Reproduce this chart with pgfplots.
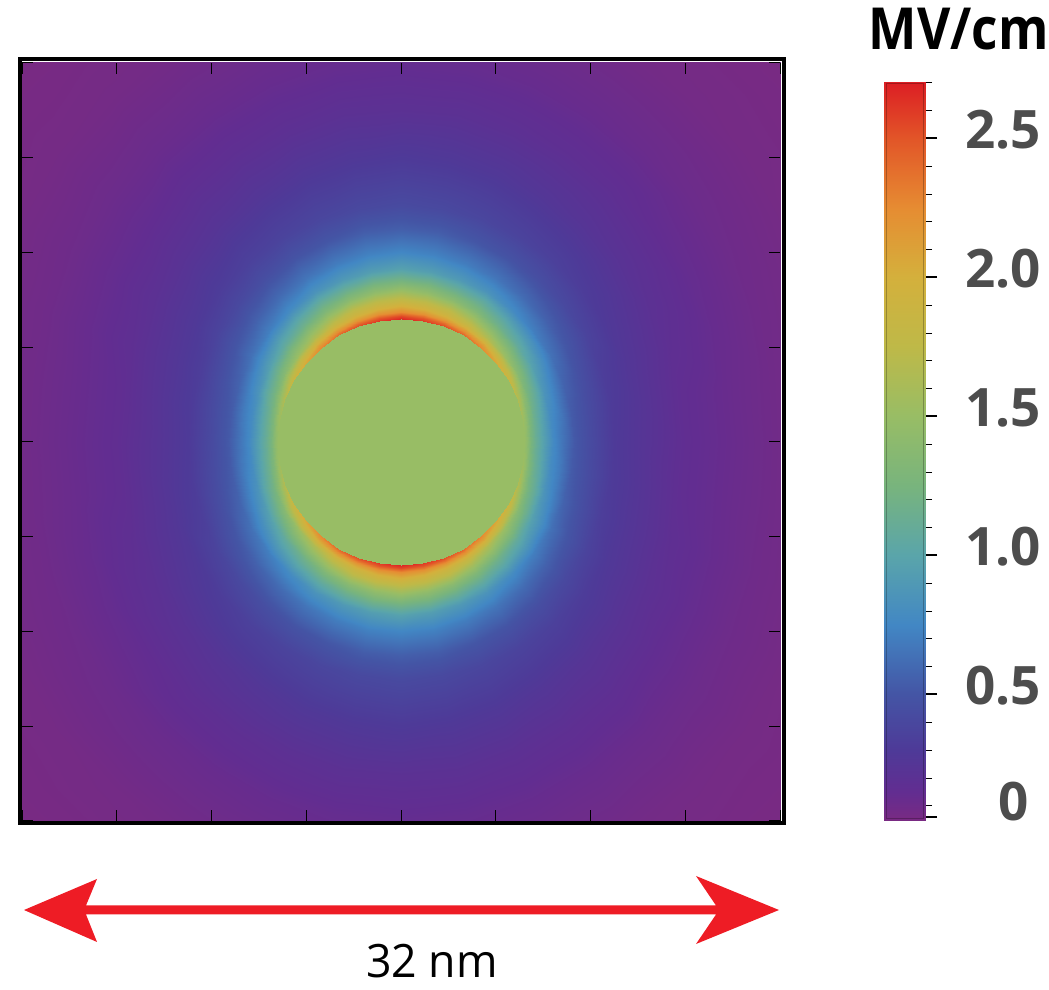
\documentclass[border=0pt]{standalone}
\usepackage{fontspec}
\setmainfont{Open Sans}
\usepackage{pgfplots}
\pgfplotsset{compat=1.18}
\definecolor{inner}{RGB}{152,189,101}
\definecolor{arrowred}{RGB}{238,28,37}
\definecolor{lab}{RGB}{77,77,77}
\pgfplotsset{colormap={field}{
 rgb255(4.5pt)=(122,42,130);
 rgb255(15pt)=(98,45,145);
 rgb255(30pt)=(78,58,152);
 rgb255(50pt)=(68,85,165);
 rgb255(75pt)=(66,135,196);
 rgb255(100pt)=(90,165,170);
 rgb255(125pt)=(120,180,125);
 rgb255(150pt)=(152,189,101);
 rgb255(175pt)=(190,185,72);
 rgb255(200pt)=(212,176,60);
 rgb255(225pt)=(230,140,50);
 rgb255(250pt)=(226,85,40);
 rgb255(270.3pt)=(220,30,36)}}
\begin{document}
\begin{tikzpicture}
\useasboundingbox (0pt,0pt) rectangle (524.5pt,495pt);
\begin{axis}[
  at={(11pt,84.5pt)},anchor=south west,scale only axis,
  xmin=-16,xmax=16,ymin=-16,ymax=16,
  width=379pt,height=379pt,
  axis line style={draw=none},
  axis on top,
  xtick={-16,-12,-8,-4,0,4,8,12,16},ytick={-16,-12,-8,-4,0,4,8,12,16},
  xticklabels={},yticklabels={},
  tick align=inside,major tick length=5.5pt,
  tick style={black,line width=0.5pt},
  colormap name=field,point meta min=0.045,point meta max=2.703,
  clip=true,
]
\addplot[surf,shader=interp,mesh/rows=37,mesh/cols=16,data cs=polar,point meta=explicit]
 table[x index=0,y index=1,meta index=2]{
0 5.2 1.50
0 5.3 1.42
0 5.5 1.25
0 5.7 1.12
0 6.0 0.97
0 6.4 0.77
0 6.8 0.66
0 7.3 0.52
0 8 0.42
0 9 0.30
0 10 0.25
0 12 0.16
0 14 0.12
0 16 0.085
0 19 0.055
0 23 0.05
10 5.2 1.55
10 5.3 1.47
10 5.5 1.29
10 5.7 1.15
10 6.0 0.99
10 6.4 0.79
10 6.8 0.68
10 7.3 0.53
10 8 0.43
10 9 0.31
10 10 0.26
10 12 0.16
10 14 0.12
10 16 0.087
10 19 0.056
10 23 0.05
20 5.2 1.70
20 5.3 1.61
20 5.5 1.42
20 5.7 1.23
20 6.0 1.07
20 6.4 0.86
20 6.8 0.73
20 7.3 0.57
20 8 0.46
20 9 0.33
20 10 0.27
20 12 0.18
20 14 0.13
20 16 0.092
20 19 0.059
20 23 0.05
30 5.2 1.90
30 5.3 1.80
30 5.5 1.59
30 5.7 1.36
30 6.0 1.19
30 6.4 0.96
30 6.8 0.81
30 7.3 0.64
30 8 0.51
30 9 0.37
30 10 0.29
30 12 0.20
30 14 0.14
30 16 0.099
30 19 0.063
30 23 0.05
40 5.2 2.10
40 5.3 2.00
40 5.5 1.76
40 5.7 1.51
40 6.0 1.32
40 6.4 1.08
40 6.8 0.91
40 7.3 0.71
40 8 0.56
40 9 0.41
40 10 0.32
40 12 0.22
40 14 0.15
40 16 0.108
40 19 0.068
40 23 0.05
50 5.2 2.30
50 5.3 2.19
50 5.5 1.93
50 5.7 1.66
50 6.0 1.45
50 6.4 1.19
50 6.8 1.00
50 7.3 0.78
50 8 0.61
50 9 0.45
50 10 0.35
50 12 0.24
50 14 0.17
50 16 0.117
50 19 0.072
50 23 0.05
60 5.2 2.44
60 5.3 2.32
60 5.5 2.05
60 5.7 1.80
60 6.0 1.58
60 6.4 1.30
60 6.8 1.09
60 7.3 0.85
60 8 0.66
60 9 0.48
60 10 0.37
60 12 0.26
60 14 0.18
60 16 0.125
60 19 0.077
60 23 0.05
70 5.2 2.55
70 5.3 2.43
70 5.5 2.14
70 5.7 1.91
70 6.0 1.68
70 6.4 1.39
70 6.8 1.16
70 7.3 0.90
70 8 0.70
70 9 0.51
70 10 0.39
70 12 0.28
70 14 0.19
70 16 0.132
70 19 0.081
70 23 0.05
80 5.2 2.62
80 5.3 2.49
80 5.5 2.20
80 5.7 1.99
80 6.0 1.75
80 6.4 1.46
80 6.8 1.21
80 7.3 0.94
80 8 0.73
80 9 0.54
80 10 0.41
80 12 0.29
80 14 0.20
80 16 0.137
80 19 0.083
80 23 0.05
90 5.2 2.68
90 5.3 2.55
90 5.5 2.25
90 5.7 2.05
90 6.0 1.80
90 6.4 1.50
90 6.8 1.25
90 7.3 0.97
90 8 0.75
90 9 0.55
90 10 0.42
90 12 0.30
90 14 0.20
90 16 0.14
90 19 0.085
90 23 0.05
100 5.2 2.62
100 5.3 2.49
100 5.5 2.20
100 5.7 1.99
100 6.0 1.75
100 6.4 1.46
100 6.8 1.21
100 7.3 0.94
100 8 0.73
100 9 0.54
100 10 0.41
100 12 0.29
100 14 0.20
100 16 0.137
100 19 0.083
100 23 0.05
110 5.2 2.55
110 5.3 2.43
110 5.5 2.14
110 5.7 1.91
110 6.0 1.68
110 6.4 1.39
110 6.8 1.16
110 7.3 0.90
110 8 0.70
110 9 0.51
110 10 0.39
110 12 0.28
110 14 0.19
110 16 0.132
110 19 0.081
110 23 0.05
120 5.2 2.44
120 5.3 2.32
120 5.5 2.05
120 5.7 1.80
120 6.0 1.58
120 6.4 1.30
120 6.8 1.09
120 7.3 0.85
120 8 0.66
120 9 0.48
120 10 0.37
120 12 0.26
120 14 0.18
120 16 0.125
120 19 0.077
120 23 0.05
130 5.2 2.30
130 5.3 2.19
130 5.5 1.93
130 5.7 1.66
130 6.0 1.45
130 6.4 1.19
130 6.8 1.00
130 7.3 0.78
130 8 0.61
130 9 0.45
130 10 0.35
130 12 0.24
130 14 0.17
130 16 0.117
130 19 0.072
130 23 0.05
140 5.2 2.10
140 5.3 2.00
140 5.5 1.76
140 5.7 1.51
140 6.0 1.32
140 6.4 1.08
140 6.8 0.91
140 7.3 0.71
140 8 0.56
140 9 0.41
140 10 0.32
140 12 0.22
140 14 0.15
140 16 0.108
140 19 0.068
140 23 0.05
150 5.2 1.90
150 5.3 1.80
150 5.5 1.59
150 5.7 1.36
150 6.0 1.19
150 6.4 0.96
150 6.8 0.81
150 7.3 0.64
150 8 0.51
150 9 0.37
150 10 0.29
150 12 0.20
150 14 0.14
150 16 0.099
150 19 0.063
150 23 0.05
160 5.2 1.70
160 5.3 1.61
160 5.5 1.42
160 5.7 1.23
160 6.0 1.07
160 6.4 0.86
160 6.8 0.73
160 7.3 0.57
160 8 0.46
160 9 0.33
160 10 0.27
160 12 0.18
160 14 0.13
160 16 0.092
160 19 0.059
160 23 0.05
170 5.2 1.55
170 5.3 1.47
170 5.5 1.29
170 5.7 1.15
170 6.0 0.99
170 6.4 0.79
170 6.8 0.68
170 7.3 0.53
170 8 0.43
170 9 0.31
170 10 0.26
170 12 0.16
170 14 0.12
170 16 0.087
170 19 0.056
170 23 0.05
180 5.2 1.50
180 5.3 1.42
180 5.5 1.25
180 5.7 1.12
180 6.0 0.97
180 6.4 0.77
180 6.8 0.66
180 7.3 0.52
180 8 0.42
180 9 0.30
180 10 0.25
180 12 0.16
180 14 0.12
180 16 0.085
180 19 0.055
180 23 0.05
190 5.2 1.55
190 5.3 1.47
190 5.5 1.29
190 5.7 1.15
190 6.0 0.99
190 6.4 0.79
190 6.8 0.68
190 7.3 0.53
190 8 0.43
190 9 0.31
190 10 0.26
190 12 0.16
190 14 0.12
190 16 0.087
190 19 0.056
190 23 0.05
200 5.2 1.70
200 5.3 1.61
200 5.5 1.42
200 5.7 1.23
200 6.0 1.07
200 6.4 0.86
200 6.8 0.73
200 7.3 0.57
200 8 0.46
200 9 0.33
200 10 0.27
200 12 0.18
200 14 0.13
200 16 0.092
200 19 0.059
200 23 0.05
210 5.2 1.90
210 5.3 1.80
210 5.5 1.59
210 5.7 1.36
210 6.0 1.19
210 6.4 0.96
210 6.8 0.81
210 7.3 0.64
210 8 0.51
210 9 0.37
210 10 0.29
210 12 0.20
210 14 0.14
210 16 0.099
210 19 0.063
210 23 0.05
220 5.2 2.10
220 5.3 2.00
220 5.5 1.76
220 5.7 1.51
220 6.0 1.32
220 6.4 1.08
220 6.8 0.91
220 7.3 0.71
220 8 0.56
220 9 0.41
220 10 0.32
220 12 0.22
220 14 0.15
220 16 0.108
220 19 0.068
220 23 0.05
230 5.2 2.30
230 5.3 2.19
230 5.5 1.93
230 5.7 1.66
230 6.0 1.45
230 6.4 1.19
230 6.8 1.00
230 7.3 0.78
230 8 0.61
230 9 0.45
230 10 0.35
230 12 0.24
230 14 0.17
230 16 0.117
230 19 0.072
230 23 0.05
240 5.2 2.44
240 5.3 2.32
240 5.5 2.05
240 5.7 1.80
240 6.0 1.58
240 6.4 1.30
240 6.8 1.09
240 7.3 0.85
240 8 0.66
240 9 0.48
240 10 0.37
240 12 0.26
240 14 0.18
240 16 0.125
240 19 0.077
240 23 0.05
250 5.2 2.55
250 5.3 2.43
250 5.5 2.14
250 5.7 1.91
250 6.0 1.68
250 6.4 1.39
250 6.8 1.16
250 7.3 0.90
250 8 0.70
250 9 0.51
250 10 0.39
250 12 0.28
250 14 0.19
250 16 0.132
250 19 0.081
250 23 0.05
260 5.2 2.62
260 5.3 2.49
260 5.5 2.20
260 5.7 1.99
260 6.0 1.75
260 6.4 1.46
260 6.8 1.21
260 7.3 0.94
260 8 0.73
260 9 0.54
260 10 0.41
260 12 0.29
260 14 0.20
260 16 0.137
260 19 0.083
260 23 0.05
270 5.2 2.68
270 5.3 2.55
270 5.5 2.25
270 5.7 2.05
270 6.0 1.80
270 6.4 1.50
270 6.8 1.25
270 7.3 0.97
270 8 0.75
270 9 0.55
270 10 0.42
270 12 0.30
270 14 0.20
270 16 0.14
270 19 0.085
270 23 0.05
280 5.2 2.62
280 5.3 2.49
280 5.5 2.20
280 5.7 1.99
280 6.0 1.75
280 6.4 1.46
280 6.8 1.21
280 7.3 0.94
280 8 0.73
280 9 0.54
280 10 0.41
280 12 0.29
280 14 0.20
280 16 0.137
280 19 0.083
280 23 0.05
290 5.2 2.55
290 5.3 2.43
290 5.5 2.14
290 5.7 1.91
290 6.0 1.68
290 6.4 1.39
290 6.8 1.16
290 7.3 0.90
290 8 0.70
290 9 0.51
290 10 0.39
290 12 0.28
290 14 0.19
290 16 0.132
290 19 0.081
290 23 0.05
300 5.2 2.44
300 5.3 2.32
300 5.5 2.05
300 5.7 1.80
300 6.0 1.58
300 6.4 1.30
300 6.8 1.09
300 7.3 0.85
300 8 0.66
300 9 0.48
300 10 0.37
300 12 0.26
300 14 0.18
300 16 0.125
300 19 0.077
300 23 0.05
310 5.2 2.30
310 5.3 2.19
310 5.5 1.93
310 5.7 1.66
310 6.0 1.45
310 6.4 1.19
310 6.8 1.00
310 7.3 0.78
310 8 0.61
310 9 0.45
310 10 0.35
310 12 0.24
310 14 0.17
310 16 0.117
310 19 0.072
310 23 0.05
320 5.2 2.10
320 5.3 2.00
320 5.5 1.76
320 5.7 1.51
320 6.0 1.32
320 6.4 1.08
320 6.8 0.91
320 7.3 0.71
320 8 0.56
320 9 0.41
320 10 0.32
320 12 0.22
320 14 0.15
320 16 0.108
320 19 0.068
320 23 0.05
330 5.2 1.90
330 5.3 1.80
330 5.5 1.59
330 5.7 1.36
330 6.0 1.19
330 6.4 0.96
330 6.8 0.81
330 7.3 0.64
330 8 0.51
330 9 0.37
330 10 0.29
330 12 0.20
330 14 0.14
330 16 0.099
330 19 0.063
330 23 0.05
340 5.2 1.70
340 5.3 1.61
340 5.5 1.42
340 5.7 1.23
340 6.0 1.07
340 6.4 0.86
340 6.8 0.73
340 7.3 0.57
340 8 0.46
340 9 0.33
340 10 0.27
340 12 0.18
340 14 0.13
340 16 0.092
340 19 0.059
340 23 0.05
350 5.2 1.55
350 5.3 1.47
350 5.5 1.29
350 5.7 1.15
350 6.0 0.99
350 6.4 0.79
350 6.8 0.68
350 7.3 0.53
350 8 0.43
350 9 0.31
350 10 0.26
350 12 0.16
350 14 0.12
350 16 0.087
350 19 0.056
350 23 0.05
360 5.2 1.50
360 5.3 1.42
360 5.5 1.25
360 5.7 1.12
360 6.0 0.97
360 6.4 0.77
360 6.8 0.66
360 7.3 0.52
360 8 0.42
360 9 0.30
360 10 0.25
360 12 0.16
360 14 0.12
360 16 0.085
360 19 0.055
360 23 0.05
};
\addplot[surf,shader=interp,mesh/rows=37,mesh/cols=2,data cs=polar,point meta=explicit]
 table[x index=0,y index=1,meta index=2]{
0 0 1.5
0 5.2 1.5
10 0 1.5
10 5.2 1.5
20 0 1.5
20 5.2 1.5
30 0 1.5
30 5.2 1.5
40 0 1.5
40 5.2 1.5
50 0 1.5
50 5.2 1.5
60 0 1.5
60 5.2 1.5
70 0 1.5
70 5.2 1.5
80 0 1.5
80 5.2 1.5
90 0 1.5
90 5.2 1.5
100 0 1.5
100 5.2 1.5
110 0 1.5
110 5.2 1.5
120 0 1.5
120 5.2 1.5
130 0 1.5
130 5.2 1.5
140 0 1.5
140 5.2 1.5
150 0 1.5
150 5.2 1.5
160 0 1.5
160 5.2 1.5
170 0 1.5
170 5.2 1.5
180 0 1.5
180 5.2 1.5
190 0 1.5
190 5.2 1.5
200 0 1.5
200 5.2 1.5
210 0 1.5
210 5.2 1.5
220 0 1.5
220 5.2 1.5
230 0 1.5
230 5.2 1.5
240 0 1.5
240 5.2 1.5
250 0 1.5
250 5.2 1.5
260 0 1.5
260 5.2 1.5
270 0 1.5
270 5.2 1.5
280 0 1.5
280 5.2 1.5
290 0 1.5
290 5.2 1.5
300 0 1.5
300 5.2 1.5
310 0 1.5
310 5.2 1.5
320 0 1.5
320 5.2 1.5
330 0 1.5
330 5.2 1.5
340 0 1.5
340 5.2 1.5
350 0 1.5
350 5.2 1.5
360 0 1.5
360 5.2 1.5
};
\end{axis}
\begin{axis}[
  at={(442pt,84.5pt)},anchor=south west,scale only axis,
  width=20.5pt,height=369.5pt,
  xmin=0,xmax=1,ymin=0.045,ymax=2.703,
  xtick=\empty,
  ytick={0.5,1,1.5,2,2.5},
  yticklabels={0.5,1.0,1.5,2.0,2.5},
  extra y ticks={0.06},extra y tick labels={0},
  extra y tick style={yticklabel style={yshift=3pt,xshift=16.5pt}},
  minor ytick={0.1,0.2,0.3,0.4,0.6,0.7,0.8,0.9,1.1,1.2,1.3,1.4,1.6,1.7,1.8,1.9,2.1,2.2,2.3,2.4,2.6,2.7},
  axis y line*=right,
  hide x axis,
  tick align=outside,
  major tick length=6pt,minor tick length=3.5pt,
  every major tick/.append style={black,line width=1pt},
  every minor tick/.append style={black,line width=0.4pt},
  yticklabel style={font=\fontsize{26.5}{26.5}\selectfont\bfseries,text=lab,anchor=west,inner sep=0pt,xshift=14pt,yshift=4.5pt},
  axis line style={draw=none},
  colormap name=field,point meta min=0.045,point meta max=2.703,
]
\addplot[surf,shader=interp,mesh/rows=13,mesh/cols=2,point meta=explicit]
 table[x index=0,y index=1,meta index=1]{
0 0.045
1 0.045
0 0.15
1 0.15
0 0.3
1 0.3
0 0.5
1 0.5
0 0.75
1 0.75
0 1
1 1
0 1.25
1 1.25
0 1.5
1 1.5
0 1.75
1 1.75
0 2
1 2
0 2.25
1 2.25
0 2.5
1 2.5
0 2.703
1 2.703
};
\end{axis}
\begin{scope}[x=0.5pt,y=-0.5pt,yshift=495pt]
\draw[black,line width=2pt] (19.5,59) rectangle (784,823.5);
\draw[black,opacity=0.25,line width=0.5pt] (886,84) rectangle (923,819);
\fill[arrowred] (24,910)--(97,879)--(86,905.5)--(716,905.5)--(696,876)--(779,910)--(696,944)--(716,914.5)--(86,914.5)--(97,942)--cycle;
\node[anchor=base,font=\fontsize{23}{23}\selectfont,inner sep=0pt] at (432,978) {\scalebox{0.97}[1]{32 nm}};
\node[anchor=base east,font=\fontsize{29}{29}\selectfont\bfseries,inner sep=0pt] at (1049,50) {\scalebox{0.885}[1]{MV/cm}};
\end{scope}
\end{tikzpicture}
\end{document}
